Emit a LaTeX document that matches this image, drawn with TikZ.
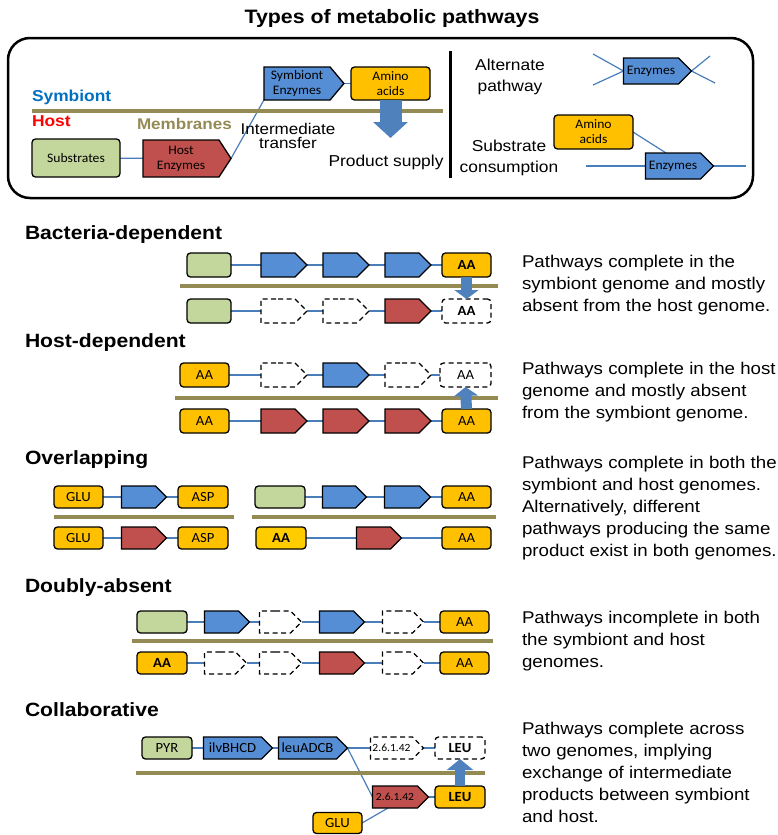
\documentclass[tikz,border=0pt]{standalone}
\usepackage{fontspec}
\setmainfont{Liberation Sans}[FakeStretch=1.1]
\newfontfamily\calfont{Carlito}[FakeStretch=1.05]
\usetikzlibrary{shapes.symbols,arrows.meta,calc}
\pgfdeclarelayer{bg}
\pgfsetlayers{bg,main}
\definecolor{cblue}{HTML}{558ED5}
\definecolor{cred}{HTML}{C0504D}
\definecolor{cgreen}{HTML}{C3D69B}
\definecolor{cyellow}{HTML}{FFC000}
\definecolor{cyellow2}{HTML}{FFCC00}
\definecolor{cmemb}{HTML}{948A54}
\definecolor{clink}{HTML}{4A7EBB}
\definecolor{cblk}{HTML}{4F81BD}
\definecolor{csym}{HTML}{0070C0}
\newcommand\fsz[2]{\fontsize{#1}{#2}\selectfont}
\tikzset{
 every node/.style={inner sep=0pt, outer sep=0pt},
 bx/.style={draw, line width=1.3pt, rounded corners=3.5pt, minimum height=22pt, font=\calfont\fsz{14}{15}, align=center},
 gbox/.style={bx, fill=cgreen},
 ybox/.style={bx, fill=cyellow},
 dbox/.style={bx, dash pattern=on 5pt off 3.5pt, fill=white},
 enz/.style={draw, line width=1.3pt, signal, signal to=east, signal pointer angle=90, minimum height=22pt, font=\calfont\fsz{14}{15}, align=center},
 benz/.style={enz, fill=cblue},
 renz/.style={enz, fill=cred},
 denz/.style={enz, dash pattern=on 5pt off 3.5pt, fill=white},
 conn/.style={draw=clink, line width=1.2pt},
 memb/.style={draw=cmemb, line width=4pt},
 head/.style={font=\bfseries\fsz{19.2}{21}, anchor=west},
 desc/.style={font=\fsz{17}{22}, align=left, anchor=west},
 blk/.style={draw=cblk, line width=11pt, -{Triangle[width=24pt, length=9pt]}},
 lbl/.style={font=\fsz{15.8}{21}, align=center},
 aab/.style={font=\calfont\bfseries\fsz{14}{15}},
 small/.style={font=\calfont\fsz{11}{12}}
}
\begin{document}
\begin{tikzpicture}[x=1pt,y=-1pt]
\useasboundingbox (0,0) rectangle (778,835);
\node[font=\bfseries\fsz{19.4}{22}] (title) at (392,18) {Types of metabolic pathways};
\node[draw, line width=2.5pt, rounded corners=22pt, minimum width=745pt, minimum height=160pt] (frame) at (380.5,118) {};
% top panel left
\coordinate (m0a) at (32,111);
\coordinate (m0b) at (443,111);
\draw[memb] (m0a) -- (m0b);
\node[font=\bfseries\fsz{15.8}{20}, text=csym, anchor=west] (symlbl) at (32,97) {Symbiont};
\node[font=\bfseries\fsz{15.8}{20}, text=red, anchor=west] (hostlbl) at (32,121) {Host};
\node[font=\bfseries\fsz{15.5}{20}, text=cmemb, anchor=west] (memlbl) at (137,124) {Membranes};
\node[font=\fsz{15.5}{14.5}, align=center] (itlbl) at (288,136) {Intermediate\\transfer};
\node[gbox, minimum width=88pt, minimum height=38pt, font=\calfont\fsz{13}{14}] (subs) at (76,158) {Substrates};
\node[renz, minimum width=88pt, minimum height=37pt, signal pointer angle=114, font=\calfont\fsz{13}{15}] (henz) at (181,158.5) {Host\\Enzymes};
\node[benz, minimum width=80pt, minimum height=33pt, signal pointer angle=100, font=\calfont\fsz{13}{15}] (senz) at (297,83.5) {Symbiont\\Enzymes};
\node[ybox, minimum width=79pt, minimum height=33pt, font=\calfont\fsz{13}{15}] (aa0) at (390.5,83.5) {Amino\\acids};
\coordinate (ps) at (390.5,138);
\draw[draw=cblk, line width=22pt, -{Triangle[width=34pt, length=16pt]}] (aa0.south) -- (ps);
\node[font=\fsz{15.8}{20}] (pslbl) at (386,162) {Product supply};
\coordinate (dv1) at (450,51);
\coordinate (dv2) at (450,178);
\draw[line width=3pt] (dv1) -- (dv2);
% top panel right
\node[lbl] (altlbl) at (510,77) {Alternate\\pathway};
\node[benz, minimum width=68pt, minimum height=26pt, font=\calfont\fsz{13}{14}] (enza) at (651,71) {Enzymes};
\coordinate (la1) at (593,54);
\coordinate (la2) at (593,85);
\coordinate (la3) at (710,56);
\coordinate (la4) at (715,83);
\node[lbl] (sclbl) at (509,158) {Substrate\\consumption};
\node[ybox, minimum width=79pt, minimum height=34pt, font=\calfont\fsz{13}{15}] (aa2) at (593.5,132) {Amino\\acids};
\node[benz, minimum width=68pt, minimum height=26pt, font=\calfont\fsz{13}{14}] (enzb) at (673,166) {Enzymes};
\coordinate (lb1) at (586,166);
\coordinate (lb2) at (746,166);
\begin{pgfonlayer}{bg}
\draw[conn] (subs) -- (henz);
\draw[conn] (henz.east) -- (senz.south west);
\draw[conn] (senz.east) -- (aa0.west);
\draw[conn] (la1) -- (enza.west) -- (la2);
\draw[conn] (la3) -- (enza.east) -- (la4);
\draw[conn] (lb1) -- (lb2);
\draw[conn] (aa2.east) -- ($(enzb.north)+(-7,0)$);
\end{pgfonlayer}

% Bacteria-dependent
\node[head] (h1) at (25,235) {Bacteria-dependent};
\node[gbox, minimum width=44pt, minimum height=24pt] (b1) at (209,265) {};
\node[benz, minimum width=46pt, minimum height=24pt] (b2) at (278,265) {};
\node[benz, minimum width=46pt, minimum height=24pt] (b3) at (340,265) {};
\node[benz, minimum width=46pt, minimum height=24pt] (b4) at (402,265) {};
\node[ybox, minimum width=49pt, minimum height=24pt, aab] (b5) at (466.5,265) {AA};
\coordinate (mb1) at (180,286);
\coordinate (mb2) at (498,286);
\draw[memb] (mb1) -- (mb2);
\node[gbox, minimum width=44pt, minimum height=24pt] (c1) at (209,311) {};
\node[denz, minimum width=46pt, minimum height=24pt] (c2) at (278,311) {};
\node[denz, minimum width=46pt, minimum height=24pt] (c3) at (340,311) {};
\node[renz, minimum width=46pt, minimum height=24pt] (c4) at (402,311) {};
\node[dbox, minimum width=49pt, minimum height=24pt, aab] (c5) at (466.5,311) {AA};
\draw[blk] (b5.south) -- (c5.north);
\node[desc] (d1) at (522,285) {Pathways complete in the\\symbiont genome and mostly\\absent from the host genome.};

% Host-dependent
\node[head] (h2) at (25,343) {Host-dependent};
\node[ybox, minimum width=49pt, minimum height=24pt] (e1) at (204.5,375) {AA};
\node[denz, minimum width=46pt, minimum height=24pt] (e2) at (278,375) {};
\node[benz, minimum width=46pt, minimum height=24pt] (e3) at (340,375) {};
\node[denz, minimum width=46pt, minimum height=24pt] (e4) at (402,375) {};
\node[dbox, minimum width=51pt, minimum height=24pt] (e5) at (465.5,375) {AA};
\coordinate (mh1) at (175,398);
\coordinate (mh2) at (498,398);
\draw[memb] (mh1) -- (mh2);
\node[ybox, minimum width=49pt, minimum height=24pt] (f1) at (204.5,421) {AA};
\node[renz, minimum width=46pt, minimum height=24pt] (f2) at (278,421) {};
\node[renz, minimum width=46pt, minimum height=24pt] (f3) at (340,421) {};
\node[renz, minimum width=46pt, minimum height=24pt] (f4) at (402,421) {};
\node[ybox, minimum width=49pt, minimum height=24pt] (f5) at (466.5,421) {AA};
\draw[blk] (f5.north) -- (e5.south);
\node[desc] (d2) at (522,392) {Pathways complete in the host\\genome and mostly absent\\from the symbiont genome.};

% Overlapping
\node[head] (h3) at (25,460) {Overlapping};
\node[ybox, minimum width=49pt] (g1) at (78.5,497) {GLU};
\node[benz, minimum width=45pt] (g2) at (138.5,497) {};
\node[ybox, minimum width=50pt] (g3) at (203,497) {ASP};
\node[gbox, minimum width=50pt] (g4) at (280,497) {};
\node[benz, minimum width=44pt] (g5) at (339,497) {};
\node[benz, minimum width=46pt] (g6) at (402,497) {};
\node[ybox, minimum width=49pt] (g7) at (466.5,497) {AA};
\coordinate (mo1) at (54,517);
\coordinate (mo2) at (234,517);
\coordinate (mo3) at (252,517);
\coordinate (mo4) at (496,517);
\draw[memb] (mo1) -- (mo2);
\draw[memb] (mo3) -- (mo4);
\node[ybox, minimum width=49pt] (k1) at (78.5,538) {GLU};
\node[renz, minimum width=45pt] (k2) at (138.5,538) {};
\node[ybox, minimum width=50pt] (k3) at (203,538) {ASP};
\node[bx, fill=cyellow2, minimum width=50pt, aab] (k4) at (281,538) {AA};
\node[renz, minimum width=45pt] (k5) at (373.5,538) {};
\node[ybox, minimum width=49pt] (k6) at (466.5,538) {AA};
\node[desc] (d3) at (522,508) {Pathways complete in both the\\symbiont and host genomes.\\Alternatively, different\\pathways producing the same\\product exist in both genomes.};

% Doubly-absent
\node[head] (h4) at (25,588) {Doubly-absent};
\node[gbox, minimum width=50pt] (p1) at (162,622) {};
\node[benz, minimum width=45pt] (p2) at (221.5,622) {};
\node[denz, minimum width=42pt] (p3) at (275,622) {};
\node[benz, minimum width=45pt] (p4) at (336.5,622) {};
\node[denz, minimum width=41pt] (p5) at (397.5,622) {};
\node[ybox, minimum width=49pt] (p6) at (464.5,622) {AA};
\coordinate (md1) at (132,641);
\coordinate (md2) at (493,641);
\draw[memb] (md1) -- (md2);
\node[ybox, minimum width=50pt, aab] (q1) at (162,663) {AA};
\node[denz, minimum width=42pt] (q2) at (220,663) {};
\node[denz, minimum width=42pt] (q3) at (275,663) {};
\node[renz, minimum width=45pt] (q4) at (336.5,663) {};
\node[denz, minimum width=41pt] (q5) at (397.5,663) {};
\node[ybox, minimum width=49pt] (q6) at (464.5,663) {AA};
\node[desc] (d4) at (522,641) {Pathways incomplete in both\\the symbiont and host\\genomes.};

% Collaborative
\node[head] (h5) at (25,710) {Collaborative};
\node[gbox, minimum width=50pt] (r1) at (167,748) {PYR};
\node[benz, minimum width=69pt] (r2) at (232.5,748) {ilvBHCD};
\node[benz, minimum width=69pt] (r3) at (307.5,748) {leuADCB};
\node[denz, minimum width=53pt, small] (r4) at (391.5,748) {2.6.1.42};
\node[dbox, minimum width=50pt, aab] (r5) at (460,748) {LEU};
\coordinate (mc1) at (136,773);
\coordinate (mc2) at (485,773);
\draw[memb] (mc1) -- (mc2);
\node[renz, minimum width=56pt, small] (s1) at (395,797) {2.6.1.42};
\node[ybox, minimum width=50pt, aab] (s2) at (460,797) {LEU};
\node[ybox, minimum width=49pt, minimum height=21pt] (s3) at (337.5,823) {GLU};
\draw[blk, line width=10pt, -{Triangle[width=26pt, length=11pt]}] (s2.north) -- (r5.south);
\node[desc] (d5) at (522,772) {Pathways complete across\\two genomes, implying\\exchange of intermediate\\products between symbiont\\and host.};

\begin{pgfonlayer}{bg}
\foreach \a/\b in {b1/b2,b2/b3,b3/b4,b4/b5,c1/c2,c2/c3,c3/c4,c4/c5,
  e1/e2,e2/e3,e3/e4,e4/e5,f1/f2,f2/f3,f3/f4,f4/f5,
  g1/g2,g2/g3,g4/g5,g5/g6,g6/g7,k1/k2,k2/k3,k4/k5,k5/k6,
  p1/p2,p2/p3,p3/p4,p4/p5,p5/p6,q1/q2,q2/q3,q3/q4,q4/q5,q5/q6,
  r1/r2,r2/r3,r3/r4,r4/r5,s1/s2}
  {\draw[conn] (\a.east) -- (\b.west);}
\draw[conn] (r3.east) -- (s1.west);
\draw[conn] (s3.east) -- ($(s1.south)+(-7,0)$);
\end{pgfonlayer}
\end{tikzpicture}
\end{document}
